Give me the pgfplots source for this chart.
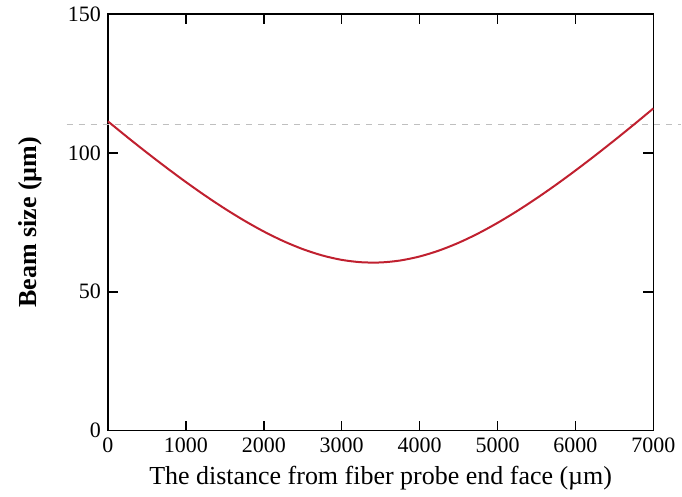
\documentclass[border=0pt]{standalone}
\usepackage{fontspec}
\setmainfont{Liberation Serif}
\usepackage{pgfplots}
\pgfplotsset{compat=1.18}
\definecolor{beam}{HTML}{C0202F}

\begin{document}
\begin{tikzpicture}
\begin{axis}[
  scale only axis, width=273pt, height=208.5pt,
  xmin=0, xmax=7000, ymin=0, ymax=150,
  xtick={0,1000,...,7000}, ytick={0,50,100,150},
  tick align=inside, major tick length=5pt,
  tick style={black, line width=0.8pt},
  axis line style={black, line width=0.8pt},
  clip=false,
  /pgf/number format/assume math mode=true,
  /pgf/number format/1000 sep={},
  tick label style={font=\fontsize{11}{13}\selectfont},
  xlabel={The distance from fiber probe end face (\textmu m)},
  ylabel={\textbf{Beam size (\textmu m)}},
  label style={font=\fontsize{13}{15}\selectfont},
  ylabel style={yshift=6pt},
]
\addplot[gray!50, dashed, line width=0.6pt, dash pattern=on 3pt off 3pt] coordinates {(-530,110.2) (7350,110.2)};
\addplot[beam, line width=1pt, smooth] coordinates {
(0,111.37) (250,105.66) (500,100.10) (750,94.72) (1000,89.53)
(1250,84.59) (1500,79.94) (1750,75.63) (2000,71.71) (2250,68.27)
(2500,65.37) (2750,63.09) (3000,61.49) (3250,60.64) (3500,60.56)
(3750,61.26) (4000,62.71) (4250,64.86) (4500,67.64) (4750,70.98)
(5000,74.81) (5250,79.05) (5500,83.64) (5750,88.52) (6000,93.66)
(6250,99.01) (6500,104.54) (6750,110.21) (7000,116.02)};
\end{axis}
\path (current bounding box.west) ++(-6pt,0) coordinate (padl);
\end{tikzpicture}
\end{document}
